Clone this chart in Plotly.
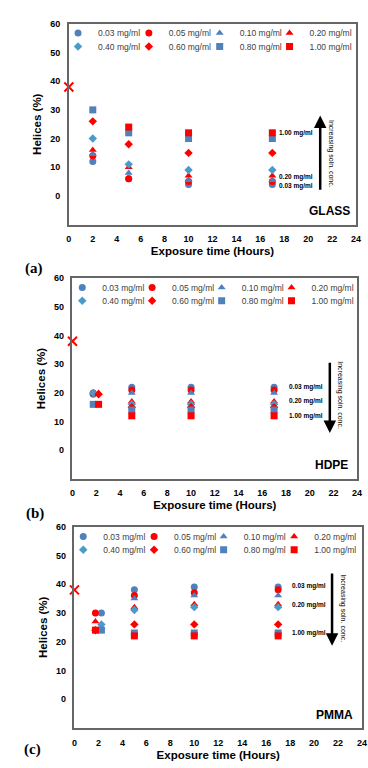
import plotly.graph_objects as go

# ---------------- data ----------------
SERIES = ["0.03 mg/ml", "0.05 mg/ml", "0.10 mg/ml", "0.20 mg/ml",
          "0.40 mg/ml", "0.60 mg/ml", "0.80 mg/ml", "1.00 mg/ml"]
TIME = [2, 5, 10, 17]
TIME_LEFT = [1.75, 5, 10, 17]
TIME_RIGHT = [2.2, 5, 10, 17]
TIME_RIGHT_C = [2.25, 5, 10, 17]

# initial value (untreated)
INIT_X = [0]
INIT_Y = [38]

# (a) GLASS
glass_003 = [12, 6, 4, 4]
glass_005 = [14, 6, 5, 5]
glass_010 = [14.5, 8, 5.5, 5.5]
glass_020 = [16, 10, 7, 7]
glass_040 = [20, 11, 9, 9]
glass_060 = [26, 18, 15, 15]
glass_080 = [30, 22, 20, 20]
glass_100 = [None, 24, 22, 22]

# (b) HDPE
hdpe_003 = [19.5, 22, 22, 22]
hdpe_005 = [20, 21, 21, 21]
hdpe_010 = [20, 20, 20, 20]
hdpe_020 = [20, 17, 17, 17]
hdpe_040 = [20, 16, 16, 16]
hdpe_060 = [19.5, 15, 15, 15]
hdpe_080 = [16, 14, 14, 14]
hdpe_100 = [16, 12, 12, 12]

# (c) PMMA
pmma_003 = [30, 38, 39, 39]
pmma_005 = [30, 36, 37, 38]
pmma_010 = [25, 35, 36, 36]
pmma_020 = [27, 32, 33, 33]
pmma_040 = [26, 31, 32, 32]
pmma_060 = [24, 26, 26, 26]
pmma_080 = [24, 23, 23, 23]
pmma_100 = [24, 22, 22, 22]

X_TICKS = list(range(0, 25, 2))
Y_TICKS = [0, 10, 20, 30, 40, 50, 60]

# ---------------- styles ----------------
BLUE = "#4F81BD"
LBLUE = "#4A9BC9"
RED = "#FF0000"
SYMBOLS = ["circle", "circle", "triangle-up", "triangle-up",
           "diamond", "diamond", "square", "square"]
COLORS = [BLUE, RED, BLUE, RED, LBLUE, RED, BLUE, RED]
SIZES = [7, 7, 7, 7, 6.5, 6.5, 7, 7]
FONT = "Arial, Liberation Sans, sans-serif"

W, H = 368, 768
ML = 60
PW = W - ML


def px_x(p):
    return (p - ML) / PW


def px_y(p):
    return 1 - p / H


panels = [
    dict(name="GLASS", tag="(a)",
         vals=[glass_003, glass_005, glass_010, glass_020, glass_040, glass_060, glass_080, glass_100],
         xs=[TIME] * 8,
         xdom=(69, 361), ydom=(19, 221),
         leg_cols=(84, 156, 228, 299), leg_rows=(28.3, 41.7),
         labels=[("1.00 mg/ml", 22), ("0.20 mg/ml", 6.6), ("0.03 mg/ml", 3.5)], labx=17.35,
         arrow=dict(x=21, head=28, tail=1.6),
         inc=dict(x=21.85, y=14.5),
         name_xy=(21.8, -5.3), tag_xy=(22, 255)),
    dict(name="HDPE", tag="(b)",
         vals=[hdpe_003, hdpe_005, hdpe_010, hdpe_020, hdpe_040, hdpe_060, hdpe_080, hdpe_100],
         xs=[TIME_LEFT, TIME_LEFT, TIME_LEFT, TIME_RIGHT, TIME_LEFT, TIME_RIGHT, TIME_LEFT, TIME_RIGHT],
         xdom=(72.7, 362), ydom=(275, 477),
         leg_cols=(88.3, 159.3, 230, 301), leg_rows=(284.3, 297.7),
         labels=[("0.03 mg/ml", 22), ("0.20 mg/ml", 17), ("1.00 mg/ml", 12)], labx=18.1,
         arrow=dict(x=21.7, head=6, tail=31),
         inc=dict(x=22.6, y=19),
         name_xy=(21.85, -5.3), tag_xy=(23, 512)),
    dict(name="PMMA", tag="(c)",
         vals=[pmma_003, pmma_005, pmma_010, pmma_020, pmma_040, pmma_060, pmma_080, pmma_100],
         xs=[TIME_RIGHT_C, TIME_LEFT, TIME_RIGHT_C, TIME_LEFT, TIME_RIGHT_C, TIME_LEFT, TIME_RIGHT_C, TIME_LEFT],
         xdom=(74.7, 367), ydom=(525, 727.7),
         leg_cols=(89.3, 161.3, 232, 303.7), leg_rows=(535, 548.3),
         labels=[("0.03 mg/ml", 39.5), ("0.20 mg/ml", 32.8), ("1.00 mg/ml", 23)], labx=17.95,
         arrow=dict(x=21.5, head=18.6, tail=44.2),
         inc=dict(x=22.45, y=31.4),
         name_xy=(21.7, -5.4), tag_xy=(21, 760)),
]

fig = go.Figure()
annotations = []
layout = dict(
    width=W, height=H,
    margin=dict(l=ML, r=0, t=0, b=0),
    paper_bgcolor="white", plot_bgcolor="white",
    font=dict(family=FONT, color="black"),
)

for i, p in enumerate(panels):
    k = "" if i == 0 else str(i + 1)
    xa, ya = "x" + k, "y" + k
    for s in range(8):
        n = i * 8 + s + 1
        leg = "legend" if n == 1 else "legend" + str(n)
        fig.add_trace(go.Scatter(
            x=p["xs"][s], y=p["vals"][s], mode="markers", name=SERIES[s],
            marker=dict(symbol=SYMBOLS[s], color=COLORS[s], size=SIZES[s]),
            xaxis=xa, yaxis=ya, legend=leg, cliponaxis=False))
        col, row = s % 4, s // 4
        layout[leg] = dict(
            x=px_x(p["leg_cols"][col] - 26), xanchor="left",
            y=px_y(p["leg_rows"][row]), yanchor="middle",
            bgcolor="rgba(0,0,0,0)", itemwidth=30,
            font=dict(size=8.5, family=FONT, color="#404040"))
    fig.add_trace(go.Scatter(
        x=INIT_X, y=INIT_Y, mode="markers", showlegend=False,
        marker=dict(symbol="x-thin", size=9, line=dict(color=RED, width=2)),
        xaxis=xa, yaxis=ya, cliponaxis=False))

    xd = [px_x(p["xdom"][0]), min(px_x(p["xdom"][1]), 1.0)]
    yd = [px_y(p["ydom"][1]), px_y(p["ydom"][0])]
    layout["xaxis" + k] = dict(
        domain=xd, anchor=ya, range=[0, 24], tickvals=X_TICKS,
        showgrid=False, zeroline=False, showline=True, mirror=True,
        linecolor="#666666", linewidth=1.5, ticks="", ticklabelstandoff=5,
        tickfont=dict(size=9, family=FONT, weight="bold"),
        title=dict(text="Exposure time (Hours)", standoff=4,
                   font=dict(size=11.5, family=FONT, weight="bold")))
    layout["yaxis" + k] = dict(
        domain=yd, anchor=xa, range=[-10, 60], tickvals=Y_TICKS,
        showgrid=False, zeroline=False, showline=True, mirror=True,
        linecolor="#666666", linewidth=1.5, ticks="", ticklabelstandoff=5,
        tickfont=dict(size=9, family=FONT, weight="bold"),
        title=dict(text="Helices (%)", standoff=6,
                   font=dict(size=11.5, family=FONT, weight="bold")))

    for txt, yv in p["labels"]:
        annotations.append(dict(
            x=p["labx"], y=yv, xref=xa, yref=ya, text=txt, showarrow=False,
            xanchor="left", yanchor="middle",
            font=dict(size=6.5, family=FONT, weight="bold")))
    a = p["arrow"]
    annotations.append(dict(
        x=a["x"], y=a["head"], ax=a["x"], ay=a["tail"], xref=xa, yref=ya,
        axref=xa, ayref=ya, text="", showarrow=True, arrowhead=2,
        arrowsize=1, arrowwidth=2.5, arrowcolor="black"))
    annotations.append(dict(
        x=p["inc"]["x"], y=p["inc"]["y"], xref=xa, yref=ya,
        text="Increasing soln. conc.", textangle=90, showarrow=False,
        font=dict(size=7, family=FONT)))
    annotations.append(dict(
        x=p["name_xy"][0], y=p["name_xy"][1], xref=xa, yref=ya,
        text=p["name"], showarrow=False,
        font=dict(size=12, family=FONT, weight="bold")))
    annotations.append(dict(
        x=px_x(p["tag_xy"][0]), y=px_y(p["tag_xy"][1]), xref="paper", yref="paper",
        text=p["tag"], showarrow=False,
        font=dict(size=15, family="Liberation Serif, Times New Roman, serif", weight="bold")))

layout["annotations"] = annotations
fig.update_layout(**layout)
fig.write_html("out.html")
